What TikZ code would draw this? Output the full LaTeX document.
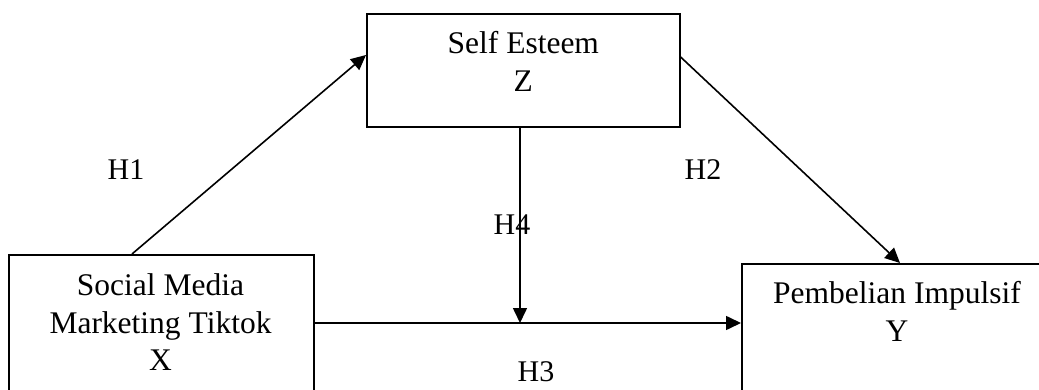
\documentclass[tikz,border=0pt]{standalone}
\usepackage{fontspec}
\setmainfont{Liberation Serif}
\usetikzlibrary{calc,arrows.meta}
\begin{document}
\begin{tikzpicture}[x=1pt,y=-1pt,
  box/.style={draw=black,line width=1.6pt,rectangle,inner sep=0pt,anchor=north west},
  boxtext/.style={anchor=north,inner sep=0pt,align=center,font=\fontsize{31.5}{37.5}\selectfont},
  hlabel/.style={inner sep=0pt,font=\fontsize{30}{36}\selectfont},
  conn/.style={line width=1.6pt,-{Triangle[length=15pt,width=14pt]}}]
\useasboundingbox (0,0) rectangle (1039,390);
% boxes
\node[box,minimum width=305pt,minimum height=150pt] (x) at (8,254) {};
\node[box,minimum width=313pt,minimum height=113pt] (z) at (366,13) {};
\node[box,minimum width=312pt,minimum height=140pt] (y) at (741,263) {};
% texts
\node[boxtext] (xt) at ($(x.north west)+(152.5,19.5)$) {Social Media\\Marketing Tiktok\\X};
\node[boxtext] (zt) at ($(z.north)+(0,18.5)$) {Self Esteem\\Z};
\node[boxtext] (yt) at ($(y.north west)+(156,18.5)$) {Pembelian Impulsif\\Y};
% connector points
\coordinate (m) at (520,323);
% connectors
\draw[conn] ($(x.north west)+(124,0)$) -- ($(z.north west)+(0,42)$);
\draw[conn] ($(z.north east)+(0,44)$) -- ($(y.north west)+(159,0)$);
\draw[line width=1.6pt] ($(x.north east)+(0,69)$) -- (m);
\draw[conn] (m) -- ($(y.north west)+(0,60)$);
\draw[conn] (z.south -| m) -- (m);
% labels
\node[hlabel] (h1) at (126,170) {H1};
\node[hlabel] (h2) at (703,170) {H2};
\node[hlabel] (h4) at (512,225) {H4};
\node[hlabel] (h3) at (536,372) {H3};
\end{tikzpicture}
\end{document}
